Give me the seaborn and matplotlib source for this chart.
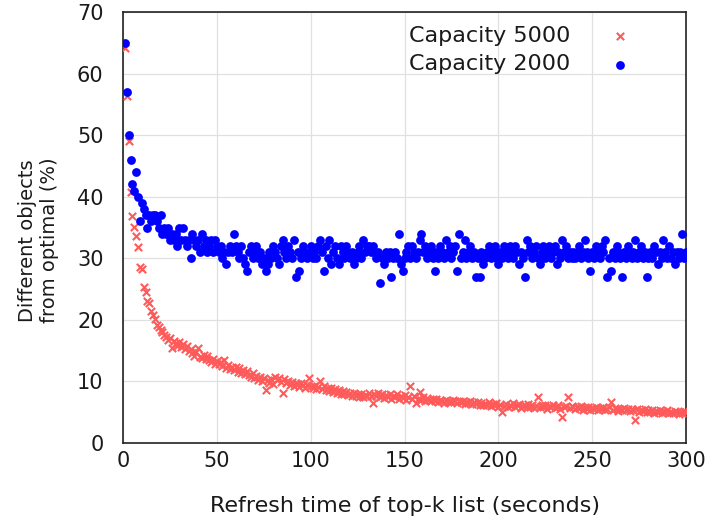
import pandas as pd
import matplotlib
matplotlib.use("Agg")
import matplotlib.pyplot as plt
import seaborn as sns

refresh_time = list(range(1, 301))

cap_2000 = [
    65, 57, 50, 46, 42, 41, 44, 40, 36, 39,
    38, 37, 35, 37, 36, 37, 37, 36, 35, 37,
    34, 35, 34, 35, 33, 34, 33, 34, 32, 35,
    33, 35, 33, 32, 33, 30, 34, 33, 32, 33,
    31, 34, 32, 33, 31, 32, 33, 31, 33, 32,
    31, 32, 30, 31, 29, 31, 32, 31, 34, 32,
    31, 30, 32, 30, 29, 28, 31, 32, 30, 31,
    32, 30, 31, 29, 30, 28, 29, 31, 30, 32,
    31, 30, 29, 32, 33, 31, 30, 32, 31, 30,
    33, 27, 31, 28, 30, 32, 31, 30, 31, 32,
    30, 31, 30, 32, 33, 31, 28, 32, 30, 33,
    29, 31, 32, 30, 29, 32, 31, 30, 32, 31,
    30, 31, 29, 30, 31, 32, 30, 33, 31, 32,
    32, 31, 32, 31, 30, 31, 26, 30, 29, 31,
    30, 31, 27, 30, 31, 30, 34, 29, 28, 30,
    31, 32, 30, 32, 31, 30, 31, 33, 34, 31,
    32, 30, 31, 32, 30, 28, 31, 30, 32, 31,
    30, 33, 31, 32, 30, 31, 32, 28, 34, 30,
    31, 33, 30, 31, 32, 30, 31, 27, 30, 27,
    31, 29, 30, 31, 32, 30, 31, 32, 30, 29,
    31, 30, 32, 31, 30, 32, 31, 30, 32, 31,
    29, 31, 30, 27, 33, 31, 32, 30, 31, 32,
    30, 29, 31, 32, 30, 31, 32, 30, 31, 32,
    29, 31, 30, 33, 31, 32, 30, 31, 30, 31,
    30, 31, 32, 30, 31, 33, 31, 30, 28, 31,
    30, 32, 31, 30, 32, 31, 33, 27, 30, 28,
    31, 30, 32, 31, 30, 27, 31, 30, 32, 31,
    30, 31, 33, 30, 31, 32, 30, 31, 27, 30,
    31, 30, 32, 31, 29, 31, 30, 33, 31, 30,
    32, 30, 31, 29, 31, 30, 31, 34, 30, 31,
]

cap_5000 = [
    64.2, 56.3, 49.1, 40.8, 36.8, 35.1, 33.6, 31.8, 28.6, 28.3,
    25.4, 24.6, 23.0, 22.8, 21.5, 20.8, 20.2, 19.2, 18.9, 18.4,
    18.1, 17.6, 17.2, 16.8, 17.0, 15.4, 16.5, 16.2, 15.8, 16.4,
    15.6, 16.1, 15.2, 15.7, 14.9, 15.3, 14.6, 14.2, 14.8, 15.4,
    14.0, 13.8, 14.3, 13.6, 14.1, 13.5, 13.2, 13.7, 12.9, 13.3,
    12.8, 13.1, 12.5, 13.5, 12.2, 12.7, 12.0, 12.4, 11.8, 12.3,
    11.6, 12.1, 11.4, 11.9, 11.2, 11.7, 11.0, 10.8, 11.3, 10.5,
    10.9, 10.3, 10.7, 10.1, 10.6, 8.6, 10.2, 9.8, 10.4, 9.6,
    10.8, 10.2, 10.6, 9.9, 8.1, 10.4, 9.7, 10.1, 9.5, 9.9,
    9.3, 9.8, 9.6, 9.1, 9.7, 9.4, 9.0, 9.5, 10.5, 9.2,
    8.9, 9.3, 8.7, 9.1, 10.1, 8.8, 9.2, 8.6, 9.0, 8.5,
    8.9, 8.3, 8.7, 8.2, 8.6, 8.0, 8.4, 7.9, 8.3, 7.8,
    8.2, 7.7, 8.1, 7.6, 8.0, 7.5, 7.9, 7.4, 7.8, 7.6,
    8.1, 7.7, 6.5, 8.0, 7.6, 8.2, 7.5, 7.9, 7.3, 7.8,
    7.4, 8.0, 7.2, 7.7, 7.5, 7.9, 7.1, 7.6, 7.3, 7.8,
    7.0, 7.5, 9.2, 7.2, 7.6, 6.5, 7.1, 8.3, 7.0, 7.4,
    6.9, 7.3, 7.0, 6.8, 7.2, 6.9, 7.1, 6.7, 7.0, 6.8,
    6.5, 7.0, 6.7, 6.9, 6.6, 7.0, 6.8, 6.5, 6.9, 6.6,
    6.8, 6.4, 6.7, 6.5, 6.8, 6.3, 6.6, 6.4, 6.7, 6.2,
    6.5, 6.1, 6.4, 6.2, 6.6, 6.0, 6.3, 6.1, 6.5, 5.9,
    6.2, 5.1, 6.0, 6.4, 5.8, 6.2, 6.0, 6.5, 5.9, 6.1,
    6.3, 5.7, 6.0, 6.2, 5.8, 6.4, 5.9, 6.1, 5.7, 6.0,
    7.5, 5.8, 6.2, 5.9, 6.1, 5.6, 6.0, 5.8, 6.2, 5.7,
    5.9, 6.1, 5.6, 4.3, 5.8, 6.0, 7.5, 5.7, 6.0, 5.8,
    5.5, 5.9, 5.7, 6.0, 5.4, 5.8, 5.6, 5.9, 5.3, 5.7,
    5.5, 5.8, 5.4, 5.7, 5.5, 5.9, 5.3, 5.6, 5.8, 6.7,
    5.4, 5.7, 5.5, 5.2, 5.6, 5.4, 5.7, 5.3, 5.5, 5.2,
    5.6, 5.3, 3.8, 5.5, 5.1, 5.4, 5.2, 5.5, 5.0, 5.3,
    5.1, 5.4, 4.9, 5.2, 5.0, 5.3, 4.8, 5.2, 5.0, 5.3,
    4.9, 5.1, 4.8, 5.2, 5.0, 4.7, 5.1, 4.9, 5.2, 5.0,
]

df5000 = pd.DataFrame({"t": refresh_time, "diff": cap_5000})
df2000 = pd.DataFrame({"t": refresh_time, "diff": cap_2000})

sns.set_style("white")
plt.rcParams["font.family"] = ["DejaVu Sans"]
text_color = "#1a1a1a"

fig = plt.figure(figsize=(7.12, 5.27), dpi=100)
ax = fig.add_axes([0.1728, 0.1594, 0.7907, 0.8178])

sns.scatterplot(data=df5000, x="t", y="diff", ax=ax, marker="x",
                color="#ff5a5a", s=28, linewidth=1.5, label="Capacity 5000",
                zorder=3)
sns.scatterplot(data=df2000, x="t", y="diff", ax=ax, marker="o",
                color="#0000ff", s=40, linewidth=0, label="Capacity 2000",
                zorder=4)

ax.set_xlim(0, 300)
ax.set_ylim(0, 70)
ax.set_xticks(range(0, 301, 50))
ax.set_yticks(range(0, 71, 10))
ax.grid(True, color="#e0e0e0", linewidth=0.9)
ax.set_axisbelow(True)
for sp in ax.spines.values():
    sp.set_color("#222222")
    sp.set_linewidth(1.2)
ax.tick_params(axis="both", direction="in", length=8, width=1.2,
               color="black", labelsize=15, labelcolor=text_color)
ax.tick_params(axis="y", pad=14)
ax.tick_params(axis="x", pad=6)

ax.set_xlabel("Refresh time of top-k list (seconds)", fontsize=16,
              color=text_color, labelpad=18)
ax.set_ylabel("Different objects\nfrom optimal (%)", fontsize=14,
              color=text_color)
ax.yaxis.set_label_coords(-0.113, 0.47)

ax.legend(loc="upper right", markerfirst=False, frameon=False, fontsize=16,
          bbox_to_anchor=(0.958, 1.015), handletextpad=1.25, labelspacing=0.4,
          labelcolor=text_color)

fig.savefig("out.png", dpi=100)
